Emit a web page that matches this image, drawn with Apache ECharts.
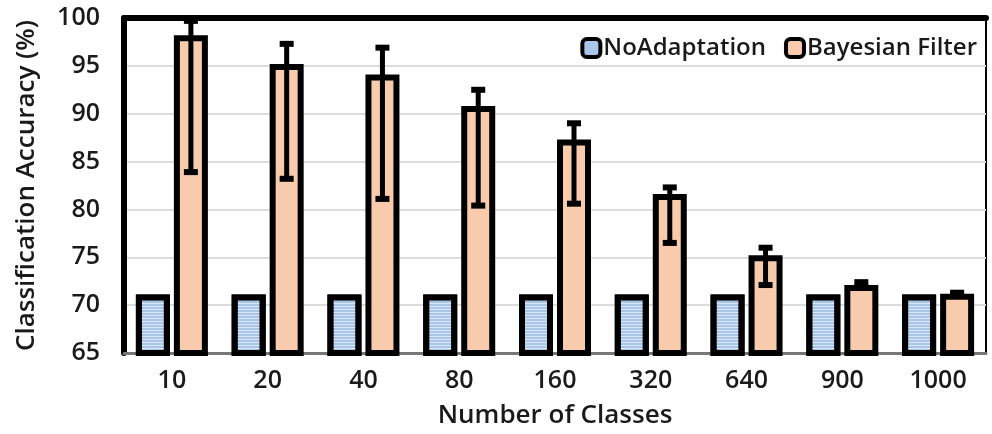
<!DOCTYPE html>
<html>
<head>
<meta charset="utf-8">
<script src="https://cdn.jsdelivr.net/npm/echarts@6/dist/echarts.min.js"></script>
<style>
  html, body { margin: 0; padding: 0; background: #fff; }
  #chart { width: 992px; height: 434px; }
</style>
</head>
<body>
<div id="chart"></div>
<script>
var categories = ['10', '20', '40', '80', '160', '320', '640', '900', '1000']
var noAdaptation = [71.1, 71.1, 71.1, 71.1, 71.1, 71.1, 71.1, 71.1, 71.1]
var bayesian = [98.2, 95.2, 94.1, 90.8, 87.3, 81.6, 75.2, 72.1, 71.2]
var errLow = [83.9, 83.2, 81.1, 80.4, 80.6, 76.5, 72.1, 71.9, 71.1]
var errHigh = [99.7, 97.3, 96.9, 92.5, 89.0, 82.3, 76.0, 72.4, 71.3]

var BAR_W = 34
var BAR_GAP = 4

var chart = echarts.init(document.getElementById('chart'))

var errData = categories.map(function (c, i) { return [i, errLow[i], errHigh[i]] })

var option = {
  animation: false,
  textStyle: { fontFamily: 'Open Sans' },
  grid: {
    left: 124, right: 6, top: 18, bottom: 81,
    show: true, borderColor: '#000', borderWidth: 2
  },
  legend: {
    right: 10, top: 31,
    itemWidth: 18, itemHeight: 18, itemGap: 18,
    icon: 'roundRect',
    textStyle: { fontSize: 24, fontWeight: 600, color: '#1a1a1a', fontFamily: 'Open Sans', padding: [0, 0, 0, -2] },
    data: [
      { name: 'NoAdaptation', itemStyle: { color: '#a9c6e8', borderColor: '#000', borderWidth: 4, decal: 'none' } },
      { name: 'Bayesian Filter', itemStyle: { color: '#f8cbad', borderColor: '#000', borderWidth: 4 } }
    ]
  },
  xAxis: [{
    type: 'category',
    data: categories,
    name: 'Number of Classes',
    nameLocation: 'middle',
    nameGap: 50,
    nameTextStyle: { fontSize: 26, fontWeight: 600, color: '#1a1a1a' },
    axisLine: { lineStyle: { color: '#777', width: 3 } },
    axisTick: { show: false },
    axisLabel: { fontSize: 25, fontWeight: 600, color: '#1a1a1a', margin: 15 }
  }, {
    type: 'category',
    data: categories,
    position: 'top',
    axisLine: { lineStyle: { color: '#000', width: 6 } },
    axisTick: { show: false },
    axisLabel: { show: false }
  }],
  yAxis: {
    type: 'value',
    min: 65, max: 100, interval: 5,
    name: 'Classification Accuracy (%)',
    nameLocation: 'middle',
    nameGap: 84,
    nameTextStyle: { fontSize: 26, fontWeight: 600, color: '#1a1a1a' },
    axisLine: { show: true, lineStyle: { color: '#000', width: 6 } },
    axisTick: { show: false },
    axisLabel: { fontSize: 25, fontWeight: 600, color: '#1a1a1a', margin: 24 },
    splitLine: { lineStyle: { color: '#dcdcdc', width: 2 } }
  },
  series: [{
    name: 'NoAdaptation',
    type: 'bar',
    data: noAdaptation,
    barWidth: BAR_W,
    barGap: (BAR_GAP / BAR_W * 100) + '%',
    itemStyle: {
      color: '#a9c6e8',
      borderColor: '#000',
      borderWidth: 6,
      decal: {
        symbol: 'rect',
        symbolSize: 1,
        dashArrayX: [1, 0],
        dashArrayY: [1, 2],
        rotation: 0,
        color: 'rgba(255,255,255,0.55)'
      }
    }
  }, {
    name: 'Bayesian Filter',
    type: 'bar',
    data: bayesian,
    barWidth: BAR_W,
    itemStyle: { color: '#f8cbad', borderColor: '#000', borderWidth: 6 }
  }, {
    type: 'custom',
    name: 'err',
    data: errData,
    z: 10,
    silent: true,
    renderItem: function (params, api) {
      var off = (BAR_W + BAR_GAP) / 2
      var lo = api.coord([api.value(0), api.value(1)])
      var hi = api.coord([api.value(0), api.value(2)])
      var x = lo[0] + off
      var cap = 7
      return {
        type: 'group',
        children: [
          { type: 'line', shape: { x1: x, y1: hi[1], x2: x, y2: lo[1] }, style: { stroke: '#000', lineWidth: 5 } },
          { type: 'line', shape: { x1: x - cap, y1: hi[1], x2: x + cap, y2: hi[1] }, style: { stroke: '#000', lineWidth: 6 } },
          { type: 'line', shape: { x1: x - cap, y1: lo[1], x2: x + cap, y2: lo[1] }, style: { stroke: '#000', lineWidth: 6 } }
        ]
      }
    },
    encode: { x: 0, y: [1, 2] }
  }]
}

chart.setOption(option)
</script>
</body>
</html>
